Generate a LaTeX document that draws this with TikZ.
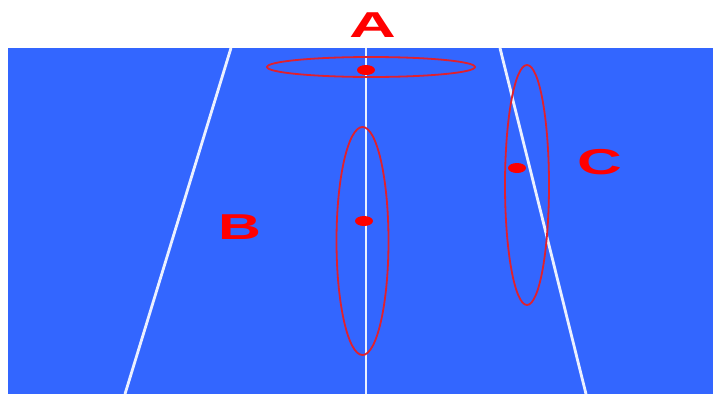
\documentclass[tikz,border=0pt]{standalone}
\usepackage{fontspec}
\setmainfont{Liberation Sans}
\usepackage{graphicx}
\usetikzlibrary{positioning}
\definecolor{courtblue}{HTML}{3366FF}
\definecolor{ringred}{HTML}{E0202E}

\begin{document}
\begin{tikzpicture}[
  x=1pt, y=-1pt,
  lane/.style={draw=white!90!courtblue, line width=2.8pt},
  ring/.style={draw=ringred, line width=1.8pt},
  spot/.style={fill=red},
  tag/.style={inner sep=0pt, text=red, font=\fontsize{36}{40}\selectfont\bfseries},
]
  \useasboundingbox (0,0) rectangle (713,394);
  \fill[courtblue] (8,48) rectangle (713,394);

  % lines on the court
  \draw[lane] (231,48) -- (125,394);
  \draw[lane] (366,48) -- (366,394);
  \draw[lane] (500,48) -- (586,394);

  % the three regions
  \draw[ring] (371,67) ellipse [x radius=104pt, y radius=10pt];
  \draw[ring] (362.5,241) ellipse [x radius=26pt, y radius=114pt];
  \draw[ring] (527,185) ellipse [x radius=22pt, y radius=120pt];

  \fill[spot] (366,70) ellipse [x radius=9pt, y radius=5pt];
  \fill[spot] (364,221) ellipse [x radius=9pt, y radius=5pt];
  \fill[spot] (517,168) ellipse [x radius=9pt, y radius=5pt];

  \node[tag] (labA) at (373,25)  {\scalebox{1.8}[1]{A}};
  \node[tag] (labB) at (240,227) {\scalebox{1.65}[1]{B}};
  \node[tag] (labC) at (600,162) {\scalebox{1.72}[1]{C}};
\end{tikzpicture}
\end{document}
